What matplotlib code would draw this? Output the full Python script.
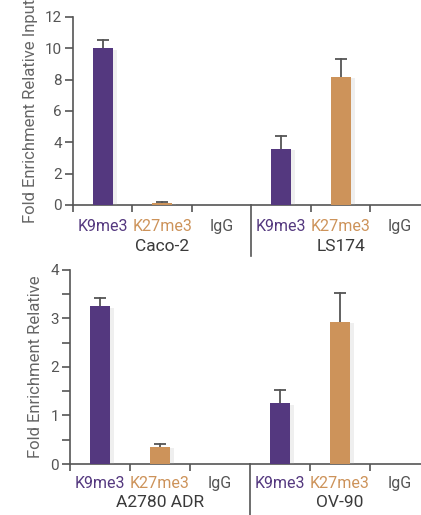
import numpy as np
import matplotlib
matplotlib.use("Agg")
import matplotlib.pyplot as plt
from matplotlib import patheffects as pe
from matplotlib.transforms import blended_transform_factory

plt.rcParams['font.family'] = ['Roboto', 'DejaVu Sans']

# data
antibodies = ['K9me3', 'K27me3', 'IgG']
top_groups = ['Caco-2', 'LS174']
top_vals = [10.0, 0.15, 0.0, 3.6, 8.2, 0.0]
top_err = [0.5, 0.05, 0.0, 0.8, 1.1, 0.0]
bot_groups = ['A2780 ADR', 'OV-90']
bot_vals = [3.25, 0.36, 0.0, 1.25, 2.93, 0.0]
bot_err = [0.18, 0.05, 0.0, 0.28, 0.59, 0.0]

purple = '#54387f'
orange = '#cd935a'
gray = '#555555'
label_colors = [purple, orange, gray]
bar_colors = [purple, orange, gray] * 2


def draw_panel(ax, vals, errs, groups, ylim, yticks, minor, ylabel, cat_y, grp_y, sep_len):
    x = np.arange(len(vals)) + 0.5
    shadow = [pe.SimplePatchShadow(offset=(3, -1), shadow_rgbFace='#aaaaaa', alpha=0.18), pe.Normal()]
    bars = ax.bar(x, vals, width=1/3, color=bar_colors, zorder=3)
    for b, v in zip(bars, vals):
        if v > 0:
            b.set_path_effects(shadow)
    # upper error bars only
    for xi, v, e in zip(x, vals, errs):
        if e > 0:
            ax.plot([xi, xi], [v, v + e], color=gray, lw=1.3, zorder=2)
            ax.plot([xi], [v + e], marker='_', ms=8, mew=1.3, color=gray, zorder=2)

    ax.set_xlim(0, 5.85)
    ax.set_ylim(*ylim)
    for s in ['top', 'right']:
        ax.spines[s].set_visible(False)
    for s in ['left', 'bottom']:
        ax.spines[s].set_color(gray)
        ax.spines[s].set_linewidth(1.2)

    ax.set_yticks(yticks)
    if minor is not None:
        ax.set_yticks(minor, minor=True)
        ax.tick_params(axis='y', which='minor', length=6, width=1.2, color=gray)
    ax.tick_params(axis='y', length=6, width=1.2, color=gray, labelcolor=gray,
                   labelsize=11, pad=2)
    ax.set_xticks([0, 1, 2, 4, 5])
    ax.set_xticklabels([])
    ax.tick_params(axis='x', length=5, width=1.2, color=gray)
    ax.set_ylabel(ylabel, color='#666666', fontsize=12, labelpad=5)

    trans = blended_transform_factory(ax.transData, ax.transAxes)
    for i, xi in enumerate(x):
        ax.text(xi, cat_y, antibodies[i % 3], transform=trans, ha='center', va='top',
                color=label_colors[i % 3], fontsize=11.5)
    for g, gx in zip(groups, [1.5, 4.5]):
        ax.text(gx, grp_y, g, transform=trans, ha='center', va='top',
                color='#3a3a3a', fontsize=12.5)
    ax.plot([3, 3], [0, -sep_len], transform=trans, color=gray, lw=1.2, clip_on=False)


fig = plt.figure(figsize=(4.21, 5.15), dpi=100)
ax1 = fig.add_axes([73/421, 0.602, 1 - 73/421, 0.365])
ax2 = fig.add_axes([70/421, 0.099, 1 - 70/421, 0.377])

draw_panel(ax1, top_vals, top_err, top_groups, (0, 12), np.arange(0, 13, 2), None,
           'Fold Enrichment Relative Input', -0.075, -0.18, 0.27)
draw_panel(ax2, bot_vals, bot_err, bot_groups, (0, 4), np.arange(0, 5, 1),
           np.arange(0.5, 4, 1), 'Fold Enrichment Relative', -0.062, -0.16, 0.27)

fig.savefig('out.png', dpi=100)
